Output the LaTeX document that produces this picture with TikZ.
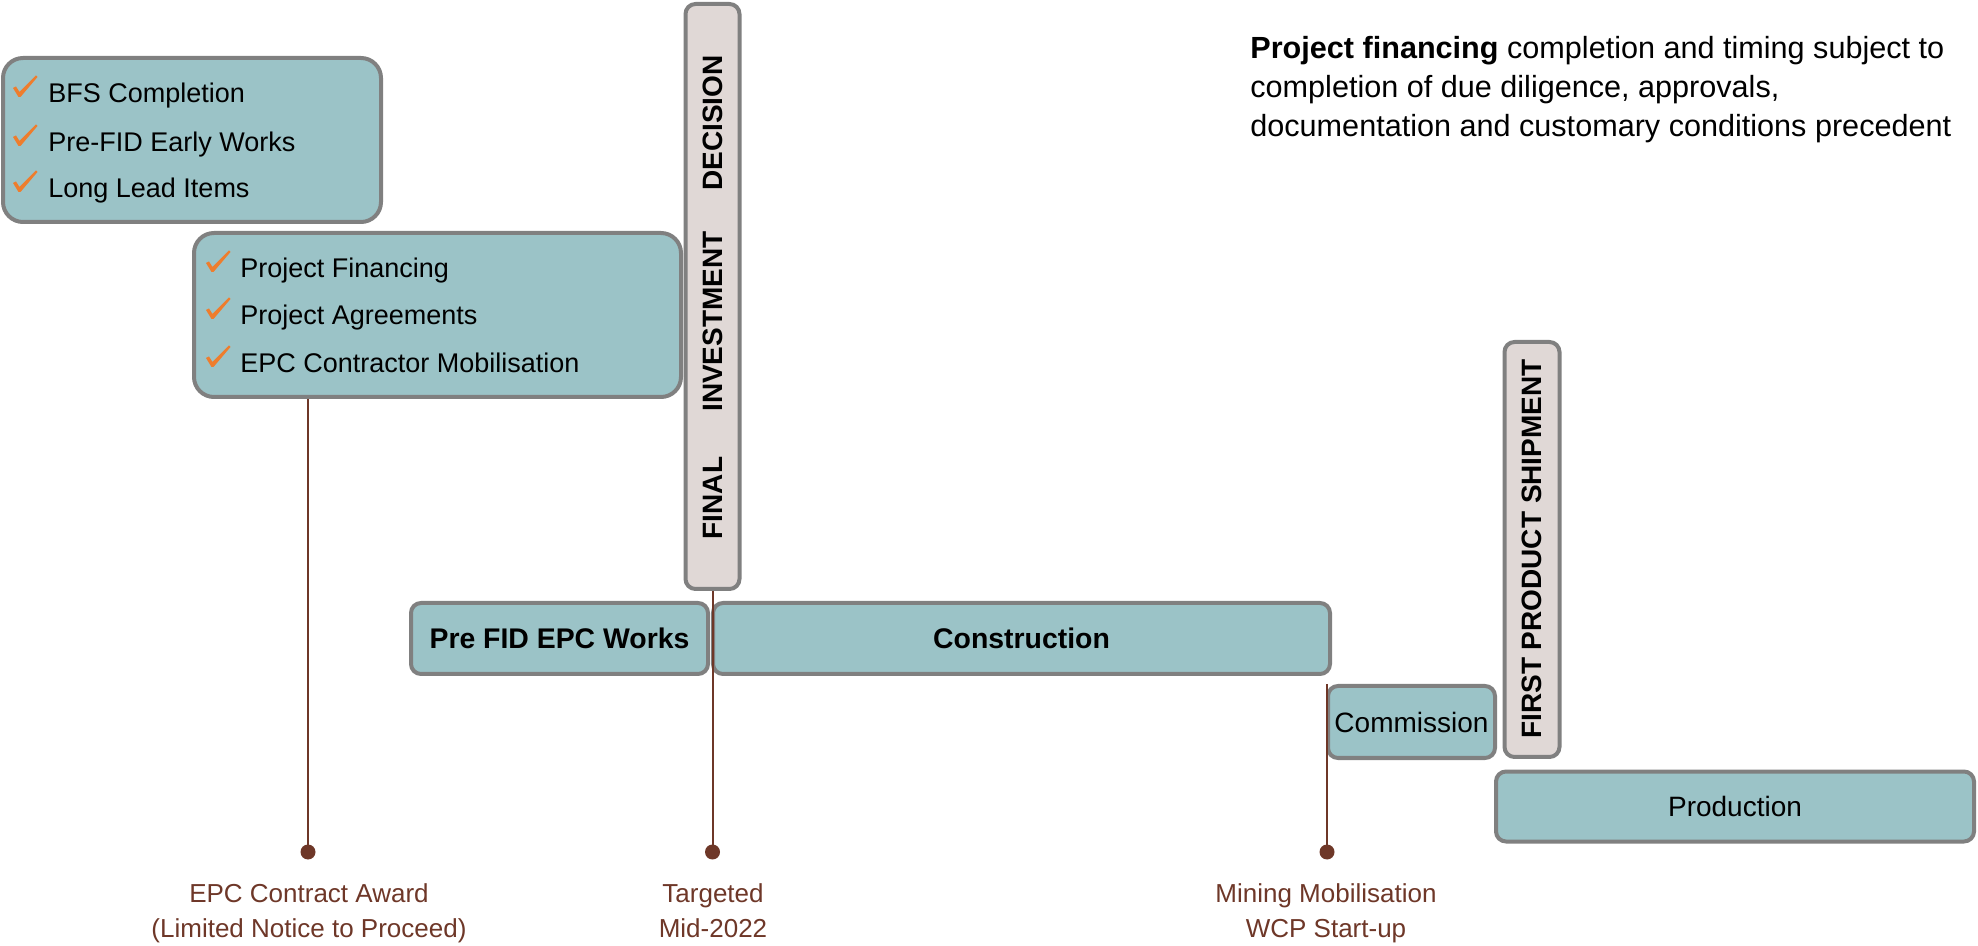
\documentclass[tikz,border=0pt]{standalone}
\usepackage{fontspec}
\setmainfont{Liberation Sans}
\definecolor{boxfill}{RGB}{155,195,199}
\definecolor{boxline}{RGB}{128,128,128}
\definecolor{fidfill}{RGB}{224,216,214}
\definecolor{brownline}{RGB}{110,55,40}
\definecolor{checkorange}{RGB}{238,125,45}
\begin{document}
\begin{tikzpicture}[x=0.5pt,y=-0.5pt,
  phase/.style={draw=boxline, line width=2pt, fill=boxfill, rounded corners=5pt, inner sep=0pt},
  listbox/.style={phase, rounded corners=10pt},
  milestone/.style={draw=boxline, line width=2pt, fill=fidfill, rounded corners=5pt, inner sep=0pt},
  listtext/.style={anchor=base west, inner sep=0pt, font=\fontsize{13.5}{16}\selectfont},
  tickmark/.pic={\fill[checkorange] (-12,2) -- (-9,0.5) -- (-5.5,6) -- (11,-10.5) -- (12.5,-9) -- (-4.5,11) -- (-6.5,11) -- cycle;},
  boldlabel/.style={font=\bfseries\fontsize{14.2}{17}\selectfont},
  plainlabel/.style={font=\fontsize{14}{17}\selectfont},
  vlabel/.style={rotate=90, inner sep=0pt, font=\bfseries\fontsize{14}{17}\selectfont},
  notetext/.style={anchor=base west, inner sep=0pt, font=\fontsize{15.3}{18}\selectfont},
  mlabel/.style={anchor=base, inner sep=0pt, text=brownline, font=\fontsize{13}{16}\selectfont},
  dot/.style={circle, fill=brownline, inner sep=0pt, minimum size=7.5pt},
  conn/.style={draw=brownline, line width=1pt}]
\useasboundingbox (0,0) rectangle (1978,946);

% list boxes
\node[listbox, minimum width=189pt, minimum height=82pt] (bfs) at (192,140) {};
\pic at (25,86) {tickmark};
\node[listtext] (l1) at (48,103) {BFS Completion};
\pic at (25,135) {tickmark};
\node[listtext] (l2) at (48,152) {Pre-FID Early Works};
\pic at (25,181) {tickmark};
\node[listtext] (l3) at (48,198) {Long Lead Items};

\node[listbox, minimum width=243.5pt, minimum height=82pt] (pf) at (437.5,315) {};
\pic at (218,261) {tickmark};
\node[listtext] (l4) at (240,278) {Project Financing};
\pic at (218,308) {tickmark};
\node[listtext] (l5) at (240,325) {Project Agreements};
\pic at (218,356) {tickmark};
\node[listtext] (l6) at (240,373) {EPC Contractor Mobilisation};

% FID bar
\node[milestone, minimum width=27pt, minimum height=292.5pt] (fid) at (712.5,296.5) {};
\node[vlabel] (fidA) at (713,123) {DECISION};
\node[vlabel] (fidB) at (713,321.5) {INVESTMENT};
\node[vlabel] (fidC) at (713,498) {FINAL};

% phases
\node[phase, minimum width=148.5pt, minimum height=35.5pt, boldlabel] (prefid) at (559.5,638.5) {Pre FID EPC Works};
\node[phase, minimum width=308.5pt, minimum height=35.5pt, boldlabel] (constr) at (1021.5,638.5) {Construction};
\node[phase, minimum width=83.5pt, minimum height=36pt, plainlabel] (comm) at (1411.5,722) {Commission};
\node[milestone, minimum width=27.5pt, minimum height=207.5pt] (fps) at (1532,549.5) {};
\node[vlabel] (fpsT) at (1532,549) {FIRST PRODUCT SHIPMENT};
\node[phase, minimum width=239pt, minimum height=35pt, plainlabel] (prod) at (1735,806.5) {Production};

% note
\node[notetext] (n1) at (1250,59) {\textbf{Project financing} completion and timing subject to};
\node[notetext] (n2) at (1250,98) {completion of due diligence, approvals,};
\node[notetext] (n3) at (1250,137) {documentation and customary conditions precedent};

% milestones
\coordinate (dA) at (308,852);
\coordinate (dB) at (712.5,852);
\coordinate (dC) at (1327,852);
\draw[conn] (dA |- pf.south) -- (dA);
\draw[conn] (fid.south) -- (dB);
\draw[conn] (dC |- comm.north) -- (dC);
\node[dot] (dotA) at (dA) {};
\node[dot] (dotB) at (dB) {};
\node[dot] (dotC) at (dC) {};

\node[mlabel] (a1) at (309,902) {EPC Contract Award};
\node[mlabel] (a2) at (309,937) {(Limited Notice to Proceed)};
\node[mlabel] (b1) at (713,902) {Targeted};
\node[mlabel] (b2) at (713,937) {Mid-2022};
\node[mlabel] (c1) at (1326,902) {Mining Mobilisation};
\node[mlabel] (c2) at (1326,937) {WCP Start-up};
\end{tikzpicture}
\end{document}
